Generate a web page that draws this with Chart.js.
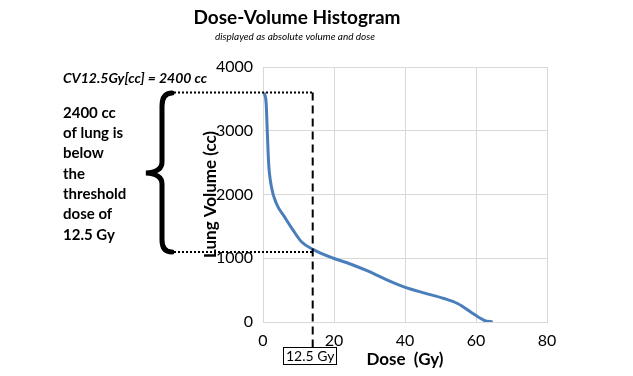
<!DOCTYPE html>
<html>
<head>
<meta charset="utf-8">
<script src="https://cdn.jsdelivr.net/npm/chart.js@4"></script>
<style>
    body { margin: 0; background: #fff; }
    #wrap { width: 633px; height: 376px; position: relative; }
</style>
</head>
<body>
<div id="wrap"><canvas id="dvhChart"></canvas></div>
<script>
// dose (Gy) and absolute lung volume (cc)
const doses = [0.3, 0.9, 1.2, 1.6, 2.4, 3.8, 6.1, 8.5, 10.9, 14.2, 19.8, 24.6, 29.3, 34, 39.7, 45.3, 51, 54.8, 58.5, 62.3, 64.7];
const volumes = [3600, 3420, 3000, 2480, 2115, 1855, 1645, 1437, 1255, 1135, 1000, 910, 804, 684, 552, 457, 369, 290, 158, 27, 0];

const xTicks = [0, 20, 40, 60, 80];
const yTicks = [0, 1000, 2000, 3000, 4000];

// threshold marker (drawn position and its label)
const thresholdDose = 14;
const thresholdLabel = '12.5 Gy';
const totalVolume = 3600;
const volumeAtThreshold = 1100;

const titleText = 'Dose-Volume Histogram';
const subtitleText = 'displayed as absolute volume and dose';
const cvText = 'CV12.5Gy[cc] = 2400 cc';
const noteLines = ['2400 cc', 'of lung is', 'below', 'the', 'threshold', 'dose of', '12.5 Gy'];

const FONT = 'Lato, "Open Sans", sans-serif';

const annotations = {
    id: 'annotations',
    afterDraw(chart) {
        const c = chart.ctx;
        const xs = chart.scales.x;
        const ys = chart.scales.y;
        c.save();
        c.fillStyle = '#000';
        c.textAlign = 'center';
        c.textBaseline = 'middle';
        c.font = 'bold 19px ' + FONT;
        c.fillText(titleText, 297, 18);
        c.font = 'italic 10px ' + FONT;
        c.fillText(subtitleText, 295, 37);

        c.textAlign = 'left';
        c.font = 'italic bold 14px ' + FONT;
        c.fillText(cvText, 63, 78);
        c.font = 'bold 15px ' + FONT;
        noteLines.forEach((line, i) => c.fillText(line, 63, 113 + i * 20.3));

        // brace
        c.strokeStyle = '#000';
        c.lineWidth = 5;
        c.lineCap = 'round';
        c.beginPath();
        c.moveTo(172, 93);
        c.quadraticCurveTo(162, 93, 162, 106);
        c.lineTo(162, 162);
        c.quadraticCurveTo(162, 172, 146, 173);
        c.quadraticCurveTo(162, 174, 162, 184);
        c.lineTo(162, 240);
        c.quadraticCurveTo(162, 252, 172, 252);
        c.stroke();

        const xT = xs.getPixelForValue(thresholdDose);
        const yTop = ys.getPixelForValue(totalVolume);
        const yLow = ys.getPixelForValue(volumeAtThreshold);

        // dotted guides
        c.lineWidth = 2;
        c.lineCap = 'butt';
        c.setLineDash([2, 2]);
        c.beginPath();
        c.moveTo(174, yTop);
        c.lineTo(xT, yTop);
        c.moveTo(174, yLow);
        c.lineTo(xT, yLow);
        c.stroke();

        // dashed threshold line
        c.setLineDash([8, 5]);
        c.beginPath();
        c.moveTo(xT, yTop);
        c.lineTo(xT, 347);
        c.stroke();
        c.setLineDash([]);

        // label box
        c.lineWidth = 1;
        c.fillStyle = '#fff';
        c.fillRect(283.5, 347.5, 53, 17);
        c.strokeRect(283.5, 347.5, 53, 17);
        c.fillStyle = '#000';
        c.font = '14px ' + FONT;
        c.textAlign = 'left';
        c.fillText(thresholdLabel, 286, 356.5);
        c.restore();
    }
};

const ctx = document.getElementById('dvhChart').getContext('2d');
const dvhChart = new Chart(ctx, {
    type: 'line',
    data: {
        datasets: [{
            label: 'Lung',
            data: doses.map((d, i) => ({ x: d, y: volumes[i] })),
            borderColor: '#4a7ebb',
            borderWidth: 3,
            pointRadius: 0,
            cubicInterpolationMode: 'monotone',
            fill: false
        }]
    },
    options: {
        responsive: true,
        maintainAspectRatio: false,
        animation: false,
        layout: {
            padding: { left: 200, right: 86, top: 67, bottom: 6 }
        },
        plugins: {
            legend: { display: false },
            tooltip: { enabled: false }
        },
        scales: {
            x: {
                type: 'linear',
                min: 0,
                max: 80,
                afterBuildTicks: (scale) => { scale.ticks = xTicks.map(v => ({ value: v })); },
                afterFit: (scale) => { scale.height = 48; },
                grid: { color: '#d9d9d9', drawTicks: false },
                border: { color: '#d9d9d9' },
                ticks: {
                    padding: 9,
                    color: '#000',
                    font: { family: FONT, size: 16 },
                    callback: (v) => String(v)
                },
                title: {
                    display: true,
                    text: 'Dose  (Gy)',
                    color: '#000',
                    padding: 0,
                    font: { family: FONT, size: 17, weight: 'bold' }
                }
            },
            y: {
                min: 0,
                max: 4000,
                afterBuildTicks: (scale) => { scale.ticks = yTicks.map(v => ({ value: v })); },
                afterFit: (scale) => { scale.width = 63; },
                grid: { color: '#d9d9d9', drawTicks: false },
                border: { color: '#d9d9d9' },
                ticks: {
                    padding: 10,
                    color: '#000',
                    font: { family: FONT, size: 16 },
                    callback: (v) => String(v)
                },
                title: {
                    display: true,
                    text: 'Lung Volume (cc)',
                    color: '#000',
                    padding: 0,
                    font: { family: FONT, size: 17, weight: 'bold' }
                }
            }
        }
    },
    plugins: [annotations]
});
</script>
</body>
</html>
